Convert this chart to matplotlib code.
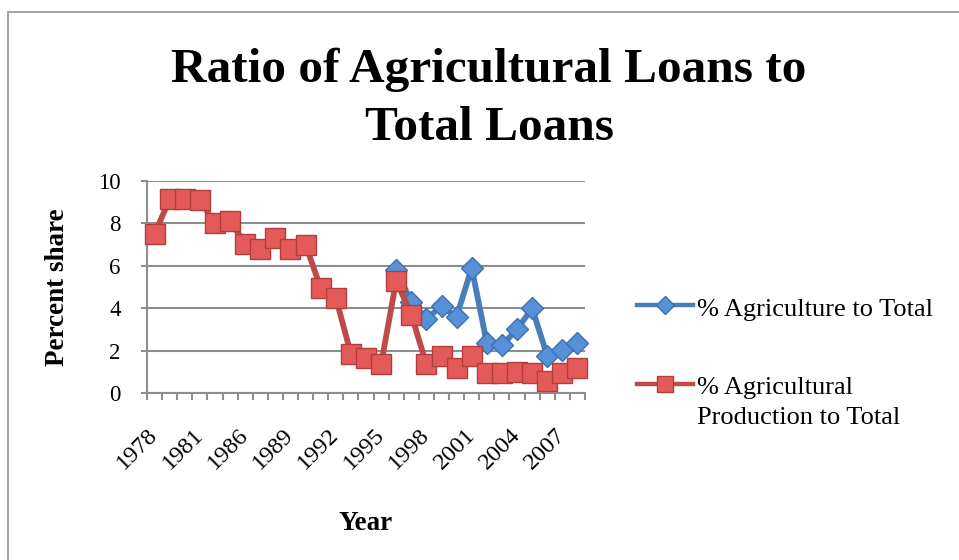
import numpy as np
import matplotlib
matplotlib.use("Agg")
import matplotlib.pyplot as plt
from matplotlib.lines import Line2D
from matplotlib.patches import Rectangle

# ---- data ----
years = [1978, 1979, 1980, 1981, 1984, 1985, 1986, 1987, 1988, 1989,
         1990, 1991, 1992, 1993, 1994, 1995, 1996, 1997, 1998, 1999,
         2000, 2001, 2002, 2003, 2004, 2005, 2006, 2007, 2008]
ag_total = [np.nan] * 16 + [5.8, 4.3, 3.5, 4.1, 3.6, 5.9, 2.35, 2.25, 3.0,
                            4.0, 1.75, 2.05, 2.35]
ag_prod_total = [7.5, 9.15, 9.15, 9.1, 8.0, 8.1, 7.05, 6.8, 7.3, 6.8,
                 7.0, 4.95, 4.5, 1.85, 1.65, 1.35, 5.3, 3.7, 1.35, 1.75,
                 1.2, 1.75, 0.95, 0.95, 1.0, 0.95, 0.55, 0.95, 1.2]
series_names = ["% Agriculture to Total", "% Agricultural\nProduction to Total"]
title_lines = ["Ratio of Agricultural Loans to", "Total Loans"]
y_ticks = [0, 2, 4, 6, 8, 10]
label_every = 3

SERIF = ["Liberation Serif", "DejaVu Serif"]
BLUE_LINE, BLUE_FILL, BLUE_EDGE = "#4A7EBB", "#5690D6", "#3E70B0"
RED_LINE, RED_FILL, RED_EDGE = "#BE4B48", "#E35A58", "#B23E3B"
GRID = "#8E8E8E"
TICK_FS = 16.5
XTICK_FS = 17.5
LEG_FS = 19
AXT_FS = 19.5

W, H = 959, 560
fig = plt.figure(figsize=(W / 100, H / 100), dpi=100)
fig.patch.set_facecolor("white")

# chart-area border (Excel style frame)
fig.patches.append(Rectangle((8 / W, -0.1), 1.2, (H - 12) / H + 0.1,
                             transform=fig.transFigure, fill=False,
                             edgecolor="#A6A6A6", linewidth=1.5))

ax_l, ax_r, ax_t, ax_b = 147, 585, 181, 393
ax = fig.add_axes([ax_l / W, (H - ax_b) / H, (ax_r - ax_l) / W, (ax_b - ax_t) / H])

x = np.arange(len(years))
ax.plot(x, ag_total, color=BLUE_LINE, lw=4.2, marker="D", ms=11.5,
        mfc=BLUE_FILL, mec=BLUE_EDGE, mew=1.0, zorder=3, clip_on=False)
ax.plot(x, ag_prod_total, color=RED_LINE, lw=4.2, marker="s", ms=14.5,
        mfc=RED_FILL, mec=RED_EDGE, mew=1.0, zorder=4, clip_on=False)

ax.set_xlim(-0.5, len(years) - 0.5)
ax.set_ylim(0, 10)
ax.set_yticks(y_ticks)
ax.set_yticklabels([str(v) for v in y_ticks], family=SERIF, fontsize=TICK_FS)
ax.yaxis.grid(True, color=GRID, lw=1.5)
ax.set_axisbelow(True)

for s in ["top", "right"]:
    ax.spines[s].set_visible(False)
for s in ["left", "bottom"]:
    ax.spines[s].set_color(GRID)
    ax.spines[s].set_linewidth(1.5)

ax.tick_params(axis="y", length=4, width=1.5, color=GRID, pad=15)

major = x[::label_every]
ax.set_xticks(major)
ax.set_xticklabels([str(years[i]) for i in major], family=SERIF, fontsize=XTICK_FS,
                   rotation=45, ha="right", va="center", rotation_mode="anchor")
ax.set_xticks(np.arange(-0.5, len(years)), minor=True)
ax.tick_params(axis="x", which="major", length=0, pad=28)
ax.tick_params(axis="x", which="minor", length=5, width=1.5, color=GRID)

ax.set_ylabel("Percent share", family=SERIF, fontsize=AXT_FS, fontweight="bold",
              va="center")
ax.yaxis.set_label_coords((58 - ax_l) / (ax_r - ax_l), 0.5)

fig.text(366 / W, (H - 530) / H, "Year", family=SERIF, fontsize=AXT_FS,
         fontweight="bold", ha="center", va="baseline")

# title
for line, base in zip(title_lines, [82, 140]):
    fig.text(489 / W, (H - base) / H, line, family=SERIF, fontsize=35.5,
             fontweight="bold", ha="center", va="baseline")

# legend (Excel places the key against the first line of the label)
leg_items = [
    (305, 299, BLUE_LINE, "D", BLUE_FILL, BLUE_EDGE, 9),
    (384, 377, RED_LINE, "s", RED_FILL, RED_EDGE, 12),
]
for (yy, ytop, lc, mk, mf, me, ms), name in zip(leg_items, series_names):
    fy = (H - yy) / H
    fig.add_artist(Line2D([637 / W, 693 / W], [fy, fy], transform=fig.transFigure,
                          color=lc, lw=3.2))
    fig.add_artist(Line2D([665 / W], [fy], transform=fig.transFigure, marker=mk,
                          ms=ms, mfc=mf, mec=me, mew=1.0, lw=0))
    fig.text(697 / W, (H - ytop) / H, name, family=SERIF, fontsize=LEG_FS,
             ha="left", va="top", linespacing=1.45)

fig.savefig("out.png", dpi=100)
